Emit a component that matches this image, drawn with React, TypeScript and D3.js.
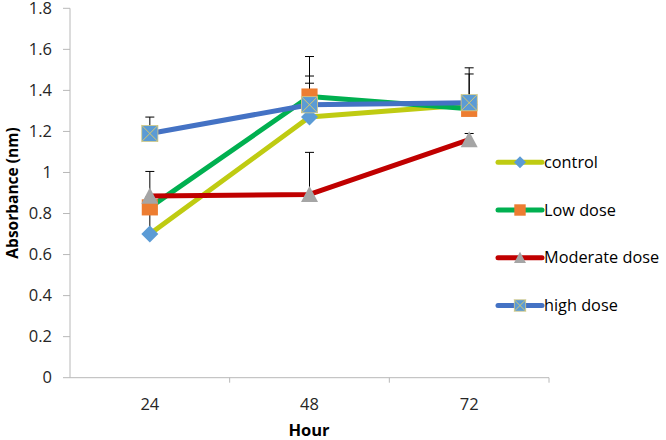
import React from "react";
import * as d3 from "d3";

const hours = ["24", "48", "72"];
const seriesNames = ["control", "Low dose", "Moderate dose", "high dose"];
const controlValues = [0.70, 1.27, 1.33];
const lowValues = [0.83, 1.37, 1.31];
const moderateValues = [0.885, 0.893, 1.16];
const highValues = [1.19, 1.33, 1.34];
const controlErr = [0.1, 0.165, 0.15];
const lowErr = [0.05, 0.195, 0.05];
const moderateErr = [0.12, 0.205, 0.03];
const highErr = [0.08, 0.14, 0.17];
const yTicks = [0, 0.2, 0.4, 0.6, 0.8, 1, 1.2, 1.4, 1.6, 1.8];

const lineColors = ["#BFCB12", "#00B050", "#C00000", "#4472C4"];
const markerColors = ["#5B9BD5", "#ED7D31", "#A5A5A5", "#5B9BD5"];
const markerTypes = ["diamond", "square", "triangle", "xsquare"];

const W = 666, H = 440;
const left = 70, right = 549, top = 8.3, bottom = 377.7;
const FONT = "'Open Sans', 'Liberation Sans', sans-serif";

function Marker({ type, x, y, s, color }: { type: string; x: number; y: number; s: number; color: string }) {
  const h = s / 2;
  if (type === "diamond") {
    return <path d={`M${x},${y - h}L${x + h},${y}L${x},${y + h}L${x - h},${y}Z`} fill={color} />;
  }
  if (type === "square") {
    return <rect x={x - h * 0.95} y={y - h * 0.95} width={s * 0.95} height={s * 0.95} fill={color} />;
  }
  if (type === "triangle") {
    return <path d={`M${x},${y - h}L${x + h},${y + h * 0.9}L${x - h},${y + h * 0.9}Z`} fill={color} />;
  }
  const q = h * 0.95;
  return (
    <g>
      <rect x={x - q} y={y - q} width={2 * q} height={2 * q} fill={color} stroke="#D8CC86" strokeWidth={0.8} />
      <path d={`M${x - q},${y - q}L${x + q},${y + q}M${x + q},${y - q}L${x - q},${y + q}`} stroke="#D4C870" strokeWidth={1} />
    </g>
  );
}

export default function App() {
  const x = d3.scaleBand<string>().domain(hours).range([left, right]);
  const y = d3.scaleLinear().domain([0, 1.8]).range([bottom, top]);
  const cx = (h: string) => (x(h) as number) + x.bandwidth() / 2;
  const values = [controlValues, lowValues, moderateValues, highValues];
  const errs = [controlErr, lowErr, moderateErr, highErr];
  const line = d3.line<[number, number]>().x(d => d[0]).y(d => d[1]);
  const legendY = [162.3, 210, 257.7, 305.5];

  return (
    <svg width={W} height={H} style={{ position: "absolute", left: 0, top: 0, background: "#fff" }}>
      <line x1={left} x2={left} y1={top} y2={bottom} stroke="#B8B8B8" strokeWidth={1} />
      {yTicks.map(t => (
        <g key={t}>
          <line x1={left - 7} x2={left} y1={y(t)} y2={y(t)} stroke="#B8B8B8" />
          <text x={52} y={y(t)} dy="0.35em" textAnchor="end" fontFamily={FONT} fontSize={16.5} fill="#262626">{String(t)}</text>
        </g>
      ))}
      <line x1={left} x2={right} y1={bottom} y2={bottom} stroke="#B8B8B8" />
      {hours.map(h => (
        <line key={"t" + h} x1={(x(h) as number) + x.bandwidth()} x2={(x(h) as number) + x.bandwidth()} y1={bottom} y2={bottom + 5} stroke="#B8B8B8" />
      ))}
      {hours.map(h => (
        <text key={h} x={cx(h)} y={404} dy="0.35em" textAnchor="middle" fontFamily={FONT} fontSize={16.5} fill="#262626">{h}</text>
      ))}
      <text x={309} y={430} dy="0.35em" textAnchor="middle" fontFamily={FONT} fontSize={16.5} fontWeight="bold" fill="#000">Hour</text>
      <text transform={`translate(13,193) rotate(-90)`} textAnchor="middle" dy="0.35em" fontFamily={FONT} fontSize={15.5} fontWeight="bold" fill="#000">Absorbance (nm)</text>

      {values.map((vals, si) => (
        <path key={"l" + si} d={line(vals.map((v, i) => [cx(hours[i]), y(v)]) as [number, number][]) as string}
          fill="none" stroke={lineColors[si]} strokeWidth={5} strokeLinejoin="round" />
      ))}
      {values.map((vals, si) => vals.map((v, i) => {
        const px = cx(hours[i]);
        const y0 = y(v), y1 = y(v + errs[si][i]);
        return (
          <g key={"e" + si + i} stroke="#000" strokeWidth={1}>
            <line x1={px} x2={px} y1={y0} y2={y1} />
            <line x1={px - 4.5} x2={px + 4.5} y1={y1} y2={y1} />
          </g>
        );
      }))}
      {values.map((vals, si) => vals.map((v, i) => (
        <Marker key={"m" + si + i} type={markerTypes[si]} x={cx(hours[i])} y={y(v)} s={17} color={markerColors[si]} />
      )))}

      {seriesNames.map((n, si) => (
        <g key={n}>
          <line x1={498} x2={542} y1={legendY[si]} y2={legendY[si]} stroke={lineColors[si]} strokeWidth={5} strokeLinecap="round" />
          <Marker type={markerTypes[si]} x={520} y={legendY[si]} s={12} color={markerColors[si]} />
          <text x={544} y={legendY[si]} dy="0.35em" fontFamily={FONT} fontSize={16.3} fill="#000">{n}</text>
        </g>
      ))}
    </svg>
  );
}
